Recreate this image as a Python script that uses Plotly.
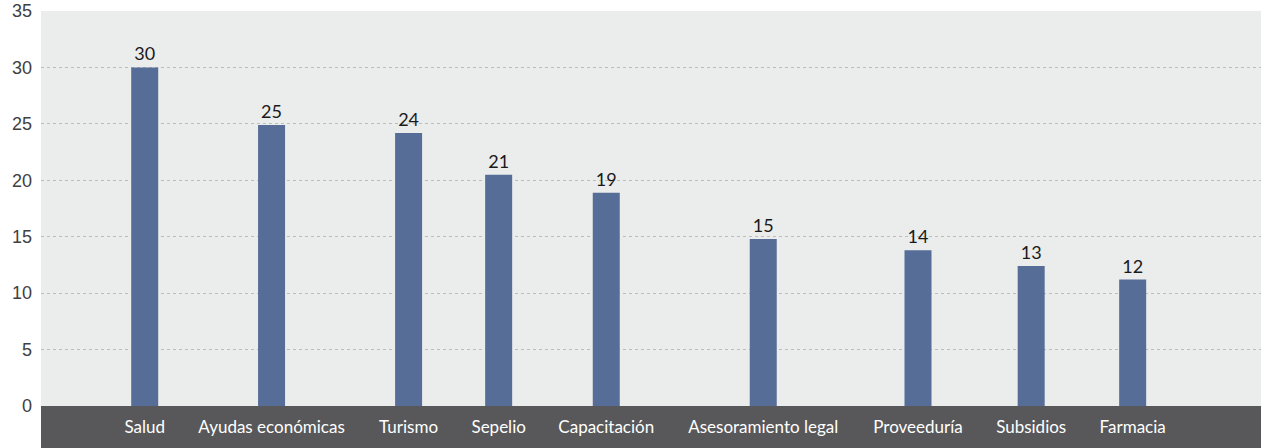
import plotly.graph_objects as go

# ---- data ----
categories = ["Salud", "Ayudas económicas", "Turismo", "Sepelio", "Capacitación",
              "Asesoramiento legal", "Proveeduría", "Subsidios", "Farmacia"]
values = [30.0, 24.9, 24.2, 20.5, 18.9, 14.8, 13.8, 12.4, 11.2]
value_labels = ["30", "25", "24", "21", "19", "15", "14", "13", "12"]
y_ticks = [0, 5, 10, 15, 20, 25, 30, 35]

# ---- layout helpers: category slots sized by label width (Calibri-like metrics) ----
CHAR_UNITS = {"a": 979, "b": 1076, "c": 866, "d": 1076, "e": 1019, "g": 964, "i": 470,
              "l": 470, "m": 1636, "n": 1076, "o": 1080, "p": 1076, "r": 714, "s": 801,
              "t": 686, "u": 1076, "v": 925, "y": 925, "A": 1185, "C": 1092, "F": 941,
              "P": 1058, "S": 941, "T": 998, " ": 463, "í": 470, "ó": 1080}
LABEL_PX = 18.67
GAP = 31.5
START = 83.0
PLOT_W = 1220


def text_w(s):
    return sum(CHAR_UNITS.get(ch, 1000) for ch in s) * LABEL_PX / 2048


xpos = []
cur = START
for c in categories:
    w = text_w(c)
    xpos.append(cur + w / 2)
    cur += w + GAP

fig = go.Figure(go.Bar(
    x=xpos, y=values, width=27,
    marker=dict(color="#566d97", line=dict(width=0)),
    text=value_labels, textposition="outside", cliponaxis=False,
    textfont=dict(family="Lato", size=18, color="#1a1a1a"),
    hoverinfo="skip",
))

fig.add_shape(type="rect", xref="paper", yref="paper", x0=0, x1=1, y0=-0.2, y1=0,
              fillcolor="#58585a", line=dict(width=0), layer="below")

fig.update_layout(
    width=1261, height=448,
    margin=dict(l=41, r=0, t=11, b=42),
    paper_bgcolor="white", plot_bgcolor="#ebecec",
    showlegend=False,
    xaxis=dict(range=[0, PLOT_W], tickvals=xpos, ticktext=categories,
               tickfont=dict(family="Lato", size=17, color="white"),
               ticks="outside", ticklen=6, tickcolor="#58585a",
               showgrid=False, zeroline=False, showline=False, fixedrange=True),
    yaxis=dict(range=[0, 35], tickvals=y_ticks,
               tickfont=dict(family="Liberation Sans", size=18, color="#404040"),
               ticks="", ticklabelstandoff=8,
               showgrid=True, gridcolor="#bdbdbd", gridwidth=1, griddash="3px,3px",
               zeroline=False, showline=False, fixedrange=True),
)

fig.write_html("out.html", config={"displayModeBar": False},
               post_script="document.body.style.margin='0';")
